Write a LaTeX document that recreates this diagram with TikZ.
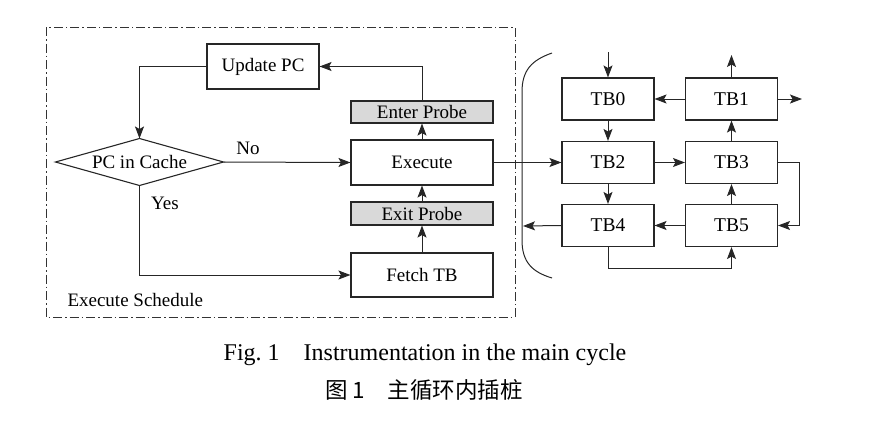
\documentclass[tikz,border=0pt]{standalone}
\usepackage{fontspec}
\setmainfont{Liberation Serif}
\newfontfamily\cjk{Noto Sans CJK SC}
\usetikzlibrary{arrows.meta}
\begin{document}
\begin{tikzpicture}[x=1pt,y=-1pt,
  line width=1pt,
  box/.style={draw=black!85, line width=1.1pt, minimum width=142pt, inner sep=0pt, font=\fontsize{19}{21}\selectfont},
  probe/.style={box, fill=black!15, minimum height=22pt},
  tbbox/.style={draw=black!85, line width=1.1pt, minimum width=92pt, minimum height=42pt, inner sep=0pt, font=\fontsize{19.5}{21}\selectfont},
  arr/.style={draw=black!85, line width=1pt, -{Stealth[length=12pt,width=9pt,inset=2.5pt]}},
  lbl/.style={font=\fontsize{19}{21}\selectfont, inner sep=0pt},
  frame/.style={draw=black!80, line width=0.9pt, dash pattern=on 9pt off 3pt on 1.5pt off 3pt},
  ]
\useasboundingbox (0,0) rectangle (870,421);

% dashed frame
\draw[frame] (46,27) rectangle (515,317);

% left part
\node[box, minimum width=112pt, minimum height=45pt] (upd) at (263,66.5) {Update PC};
\node[probe] (enter) at (422,112) {Enter Probe};
\node[box, minimum height=45pt] (exec) at (422,162.5) {Execute};
\node[probe, minimum height=23pt] (exit) at (422,213.5) {Exit Probe};
\node[box, minimum height=44pt] (fetch) at (422,275) {Fetch TB};
\node[minimum width=167pt, minimum height=46pt, inner sep=0pt, font=\fontsize{19}{21}\selectfont] (d) at (139.5,162) {PC in Cache};
\draw[draw=black!85, line width=1.1pt] (d.west) -- (d.north) -- (d.east) -- (d.south) -- cycle;

\draw[arr] (exec.north) -- (enter.south);
\draw[arr] (exit.north) -- (exec.south);
\draw[arr] (fetch.north) -- (exit.south);
\draw[arr] (enter.north) |- (upd.east);
\draw[arr] (upd.west) -| (d.north);
\draw[arr] (d.east) -- (exec.west);
\draw[arr] (d.south) |- (fetch.west);
\node[lbl] (no) at (248,148) {No};
\node[lbl] (yes) at (165,203) {Yes};
\node[lbl, anchor=west] (es) at (67,300) {Execute Schedule};

% bracket
\coordinate (bk) at (523,226);
\draw[draw=black!85, line width=1pt] (552,53) .. controls (532,60) and (522,70) .. (522,92) -- (522,240) .. controls (522,262) and (532,272) .. (552,278);

% TB grid
\node[tbbox] (tb0) at (608,99) {TB0};
\node[tbbox] (tb1) at (731.5,99) {TB1};
\node[tbbox] (tb2) at (608,162.5) {TB2};
\node[tbbox] (tb3) at (731.5,162.5) {TB3};
\node[tbbox] (tb4) at (608,225.5) {TB4};
\node[tbbox] (tb5) at (731.5,225.5) {TB5};
\coordinate (in0) at (608,52);
\coordinate (out1) at (731.5,55);
\coordinate (out2) at (802,99);

\draw[arr] (exec.east) -- (tb2.west);
\draw[arr] (in0) -- (tb0.north);
\draw[arr] (tb1.north) -- (out1);
\draw[arr] (tb1.east) -- (out2);
\draw[arr] (tb1.west) -- (tb0.east);
\draw[arr] (tb0.south) -- (tb2.north);
\draw[arr] (tb2.east) -- (tb3.west);
\draw[arr] (tb3.north) -- (tb1.south);
\draw[arr] (tb5.north) -- (tb3.south);
\draw[arr] (tb2.south) -- (tb4.north);
\draw[arr] (tb3.east) -- ++(21,0) |- (tb5.east);
\draw[arr] (tb5.west) -- (tb4.east);
\draw[arr] (tb4.west) -- (bk);
\draw[arr] (tb4.south) -- ++(0,21) -| (tb5.south);

% captions
\node[inner sep=0pt, font=\fontsize{24}{28}\selectfont] (cap1) at (425,355) {Fig.~1\hspace{1em}Instrumentation in the main cycle};
\node[inner sep=0pt, font=\fontsize{22.5}{26}\selectfont\cjk] (cap2) at (424,390) {图 1\hspace{1em}主循环内插桩};
\end{tikzpicture}
\end{document}
